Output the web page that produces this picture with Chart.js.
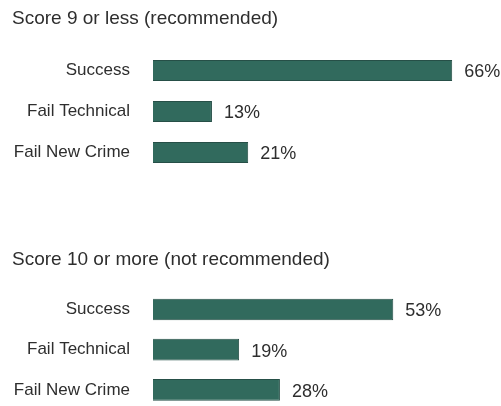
<!DOCTYPE html>
<html>
<head>
<meta charset="utf-8">
<script src="https://cdn.jsdelivr.net/npm/chart.js@4/dist/chart.umd.min.js"></script>
<style>
  html, body { margin: 0; padding: 0; background: #ffffff; }
  #wrap { position: relative; width: 501px; height: 406px; overflow: hidden; background: #ffffff; }
  #wrap canvas { position: absolute; left: 0; }
  #c1 { top: 0; }
  #c2 { top: 200px; }
</style>
</head>
<body>
<div id="wrap">
  <canvas id="c1" width="501" height="200"></canvas>
  <canvas id="c2" width="501" height="212"></canvas>
</div>
<script>
// Outcome categories and percentages for each score group
const categories = ['Success', 'Fail Technical', 'Fail New Crime'];
const recommendedPct = [66, 13, 21];
const notRecommendedPct = [53, 19, 28];
const groupTitles = ['Score 9 or less (recommended)', 'Score 10 or more (not recommended)'];

const FONT = "'Liberation Sans', Arial, sans-serif";
const TEXT = '#2e2e2e';
const BAR_FILL = '#316a5d';
const BAR_EDGE = '#264f47';

// Writes "NN%" just past the end of each bar
const valueLabels = {
  id: 'valueLabels',
  afterDatasetsDraw(chart) {
    const ctx = chart.ctx;
    const meta = chart.getDatasetMeta(0);
    const values = chart.data.datasets[0].data;
    ctx.save();
    ctx.font = '18px ' + FONT;
    ctx.fillStyle = TEXT;
    ctx.textAlign = 'left';
    ctx.textBaseline = 'middle';
    meta.data.forEach((bar, i) => {
      ctx.fillText(values[i] + '%', bar.x + 12, bar.y + 2);
    });
    ctx.restore();
  }
};

function makeChart(id, title, values, opts) {
  return new Chart(document.getElementById(id), {
    type: 'bar',
    data: {
      labels: categories,
      datasets: [{
        data: values,
        backgroundColor: BAR_FILL,
        borderColor: BAR_EDGE,
        borderWidth: 1,
        categoryPercentage: 1,
        barPercentage: opts.barPct
      }]
    },
    options: {
      indexAxis: 'y',
      responsive: false,
      animation: false,
      layout: { padding: { left: 12, right: 8, top: 0, bottom: opts.padBottom } },
      plugins: {
        legend: { display: false },
        tooltip: { enabled: false },
        title: {
          display: true,
          text: title,
          align: 'start',
          color: TEXT,
          font: { family: FONT, size: 19, weight: 'normal', lineHeight: 1.2 },
          padding: { top: opts.titleTop, bottom: opts.titleBottom }
        }
      },
      scales: {
        x: { display: false, min: 0, max: 75 },
        y: {
          grid: { display: false, drawTicks: false },
          border: { display: false },
          ticks: {
            color: TEXT,
            padding: 23,
            font: { family: FONT, size: 17 }
          },
          afterFit(scale) {
            // fixed label column; labels never push the plot area inward
            scale.width = 141;
            scale.paddingTop = 0;
            scale.paddingBottom = 0;
          }
        }
      }
    },
    plugins: [valueLabels]
  });
}

makeChart('c1', groupTitles[0], recommendedPct,
  { barPct: 0.51, padBottom: 27, titleTop: 7.6, titleBottom: 19.6 });
makeChart('c2', groupTitles[1], notRecommendedPct,
  { barPct: 0.54, padBottom: 2, titleTop: 48.6, titleBottom: 18 });
</script>
</body>
</html>
